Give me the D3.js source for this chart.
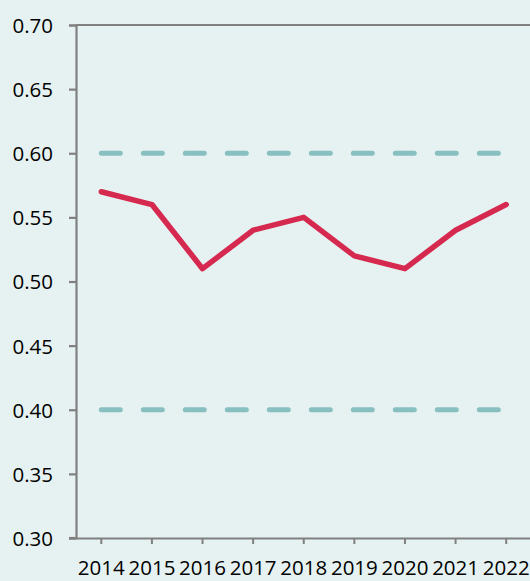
<!DOCTYPE html>
<html><head><meta charset="utf-8">
<script src="https://cdn.jsdelivr.net/npm/d3@7"></script>
<style>html,body{margin:0;padding:0;background:#e6f1f1;}svg{display:block;}</style>
</head><body>
<script>
const years = ["2014","2015","2016","2017","2018","2019","2020","2021","2022"];
const values = [0.57,0.56,0.51,0.54,0.55,0.52,0.51,0.54,0.56];
const upperLimit = [0.60,0.60,0.60,0.60,0.60,0.60,0.60,0.60,0.60];
const lowerLimit = [0.40,0.40,0.40,0.40,0.40,0.40,0.40,0.40,0.40];
const yTicks = [0.30,0.35,0.40,0.45,0.50,0.55,0.60,0.65,0.70];

const W=530,H=581;
const svg=d3.select("body").append("svg").attr("width",W).attr("height",H);
svg.append("rect").attr("width",W).attr("height",H).attr("fill","#e6f1f1");
const x=d3.scaleBand().domain(years).range([76,531.5]);
const y=d3.scaleLinear().domain([0.30,0.70]).range([538,25]);
const font="'Open Sans', 'Liberation Sans', Arial, sans-serif";
const axisColor="#808080";

// y axis
const ya=svg.append("g").attr("transform","translate(76,0)")
  .call(d3.axisLeft(y).tickValues(yTicks).tickFormat(d3.format(".2f")).tickSize(7).tickPadding(16));
ya.select(".domain").attr("stroke",axisColor).attr("stroke-width",2.2);
ya.selectAll(".tick line").attr("stroke",axisColor).attr("stroke-width",2.2);
ya.selectAll("text").attr("font-family",font).attr("font-size",20.5).attr("fill","#000").attr("dy","0.36em");

// top border at 0.70
svg.append("line").attr("x1",76).attr("x2",W).attr("y1",y(0.70)).attr("y2",y(0.70))
  .attr("stroke",axisColor).attr("stroke-width",2.2);

// x axis
const xa=svg.append("g").attr("transform",`translate(0,${y(0.30)})`)
  .call(d3.axisBottom(x).tickSize(6).tickPadding(16.5).tickSizeOuter(0));
xa.select(".domain").attr("stroke",axisColor).attr("stroke-width",2.2);
xa.selectAll(".tick line").attr("stroke",axisColor).attr("stroke-width",2);
xa.selectAll("text").attr("font-family",font).attr("font-size",20.5).attr("fill","#000");
svg.append("line").attr("x1",69).attr("x2",76).attr("y1",y(0.30)).attr("y2",y(0.30)).attr("stroke",axisColor).attr("stroke-width",2.2);

const line=d3.line().x((d,i)=>x(years[i])+x.bandwidth()/2).y(d=>y(d));
[upperLimit,lowerLimit].forEach(arr=>{
  svg.append("path").attr("d",line(arr)).attr("fill","none").attr("stroke","#88bfc0")
    .attr("stroke-width",5).attr("stroke-linecap","round").attr("stroke-dasharray","19,23");
});
svg.append("path").attr("d",line(values)).attr("fill","none").attr("stroke","#d6294f")
  .attr("stroke-width",5.5).attr("stroke-linejoin","round").attr("stroke-linecap","round");
</script>
</body></html>
